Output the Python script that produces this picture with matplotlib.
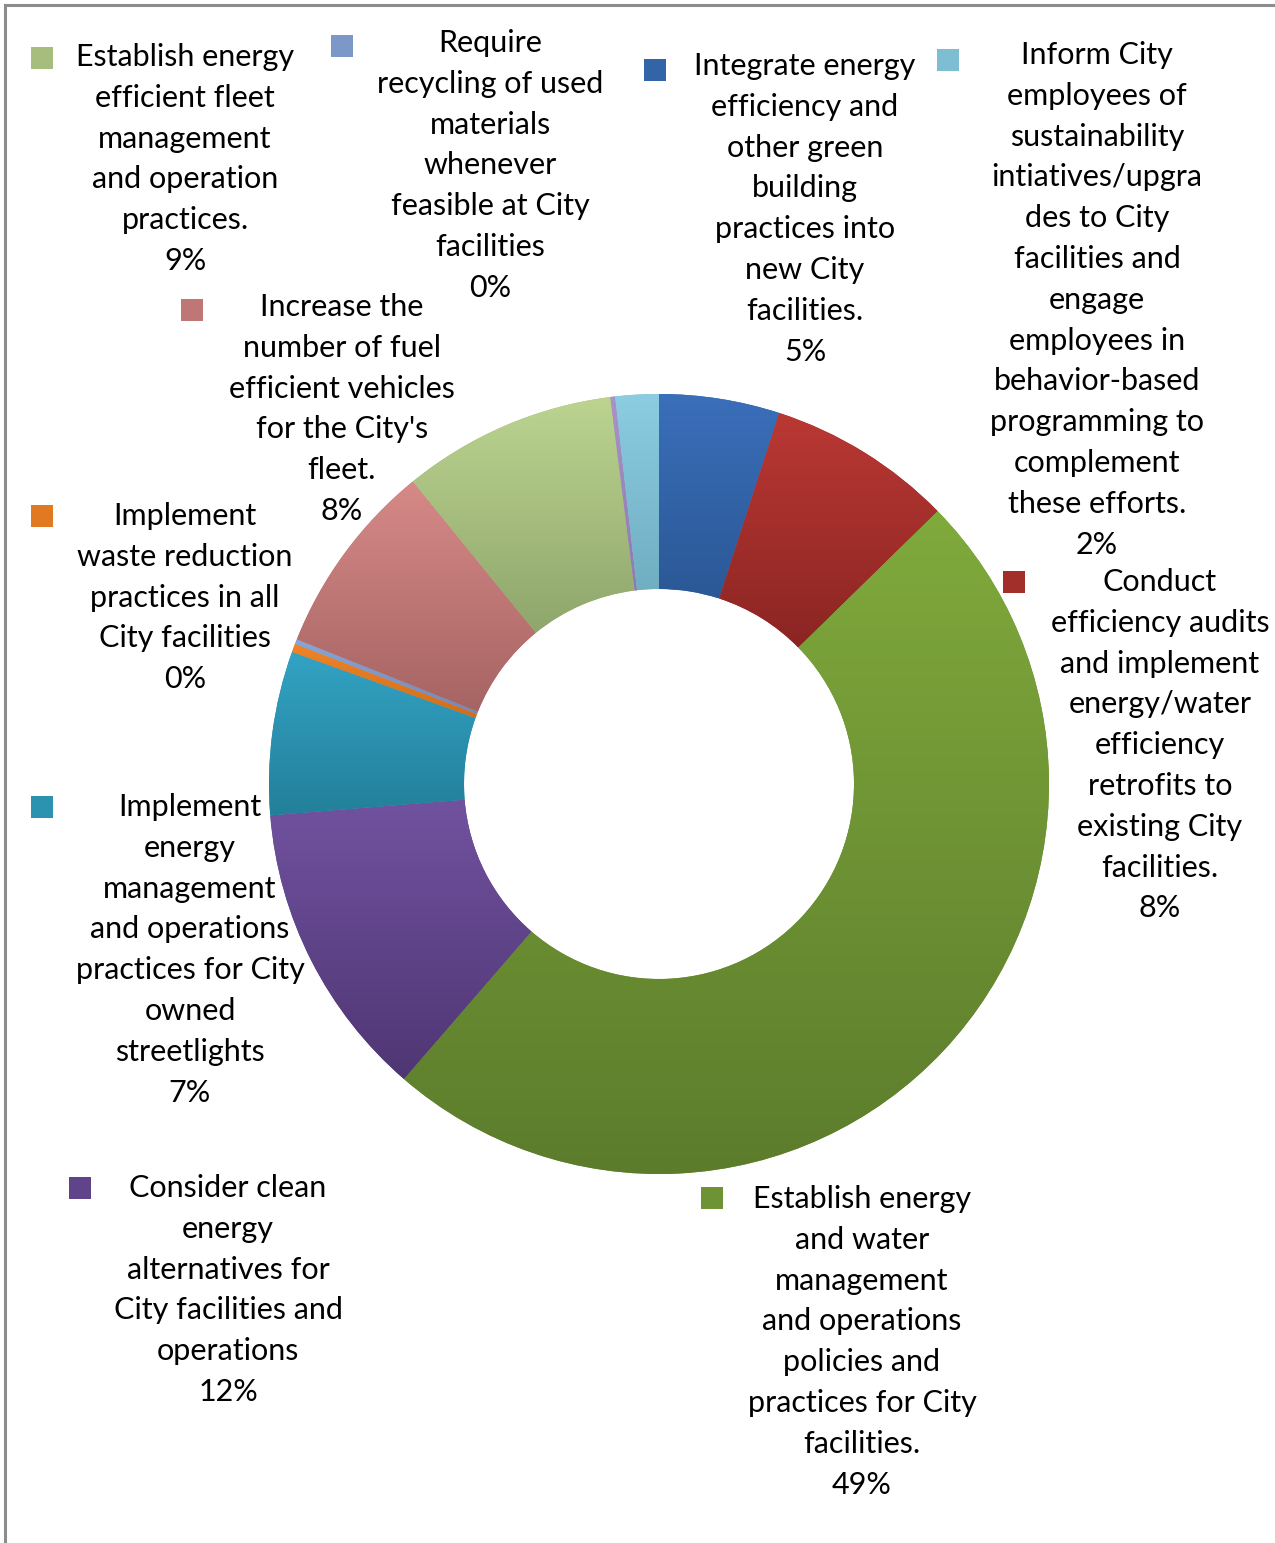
import numpy as np
import matplotlib
matplotlib.use("Agg")
import matplotlib.pyplot as plt
from matplotlib.colors import LinearSegmentedColormap
from matplotlib.patches import Rectangle
from matplotlib.lines import Line2D

# slices, clockwise from 12 o'clock
values = [5.0, 7.7, 48.8, 12.4, 6.8, 0.35, 0.2, 8.1, 8.9, 0.2, 1.8]
tops = ["#3A6FBA", "#BA3834", "#80AA3C", "#7152A0", "#33A3C4", "#F08428",
        "#8AA6D8", "#D68A88", "#BCD490", "#A894C8", "#8CCDE2"]
bottoms = ["#2B5896", "#8B2522", "#5C7C2C", "#4F3673", "#23809A", "#D06E1C",
           "#6E89BA", "#A66462", "#8FA66C", "#8E7AB0", "#70AEC2"]

labels = [
    ["Integrate energy", "efficiency and", "other green", "building",
     "practices into", "new City", "facilities."],
    ["Conduct", "efficiency audits", "and implement", "energy/water",
     "efficiency", "retrofits to", "existing City", "facilities."],
    ["Establish energy", "and water", "management", "and operations",
     "policies and", "practices for City", "facilities."],
    ["Consider clean", "energy", "alternatives for", "City facilities and",
     "operations"],
    ["Implement", "energy", "management", "and operations",
     "practices for City", "owned", "streetlights"],
    ["Implement", "waste reduction", "practices in all", "City facilities"],
    ["Require", "recycling of used", "materials", "whenever",
     "feasible at City", "facilities"],
    ["Increase the", "number of fuel", "efficient vehicles", "for the City's",
     "fleet."],
    ["Establish energy", "efficient fleet", "management", "and operation",
     "practices."],
    None,
    ["Inform City", "employees of", "sustainability", "intiatives/upgra",
     "des to City", "facilities and", "engage", "employees in",
     "behavior-based", "programming to", "complement", "these efforts."],
]

# label layout in pixels: text centre x, first line y, marker centre (x, y)
label_pos = [
    (805, 66, 655, 70),
    (1160, 582, 1014, 582),
    (862, 1199, 712, 1198),
    (228, 1188, 80, 1188),
    (190, 807, 42, 807),
    (185, 516, 42, 516),
    (490, 43, 342, 46),
    (342, 307, 192, 310),
    (185, 57, 42, 58),
    None,
    (1097, 55, 948, 60),
]

W, H = 1275, 1543
fig = plt.figure(figsize=(W / 100, H / 100), dpi=100)
fig.patch.set_facecolor("white")

ax = fig.add_axes([269 / W, 1 - 1174 / H, 780 / W, 780 / H])
mids = [tuple((np.array(matplotlib.colors.to_rgb(t)) + np.array(matplotlib.colors.to_rgb(b))) / 2)
        for t, b in zip(tops, bottoms)]
wedges, _ = ax.pie(values, colors=mids, startangle=90, counterclock=False,
                   radius=1, wedgeprops=dict(width=0.5, linewidth=0))

grad = np.linspace(0, 1, 256).reshape(-1, 1)
for w, t, b in zip(wedges, tops, bottoms):
    ext = w.get_path().get_extents()
    cmap = LinearSegmentedColormap.from_list("g", [t, b])
    im = ax.imshow(grad, extent=(ext.x0, ext.x1, ext.y0, ext.y1), origin="upper",
                   cmap=cmap, aspect="auto", interpolation="bilinear", zorder=2)
    im.set_clip_path(w)

ax.set_xlim(-1, 1)
ax.set_ylim(-1, 1)
ax.set_aspect("equal")
ax.axis("off")

total = sum(values)
step = 40.8
for lab, pos, v, t, b, m in zip(labels, label_pos, values, tops, bottoms, mids):
    if lab is None:
        continue
    cx, y0, mx, my = pos
    lines = lab + ["%d%%" % round(v / total * 100)]
    for i, line in enumerate(lines):
        fig.text(cx / W, 1 - (y0 + i * step) / H, line, ha="center", va="center",
                 fontsize=22, family="Lato", color="black")
    s = 22
    fig.patches.append(Rectangle(((mx - s / 2) / W, 1 - (my + s / 2) / H), s / W, s / H,
                                 transform=fig.transFigure, facecolor=m, edgecolor="none"))

# frame edges visible at top and left
fig.lines.append(Line2D([5 / W, 1], [1 - 5 / H, 1 - 5 / H], transform=fig.transFigure,
                        color="#8C8C8C", linewidth=2.2))
fig.lines.append(Line2D([5 / W, 5 / W], [0, 1 - 5 / H], transform=fig.transFigure,
                        color="#8C8C8C", linewidth=2.2))

fig.savefig("out.png", dpi=100)
